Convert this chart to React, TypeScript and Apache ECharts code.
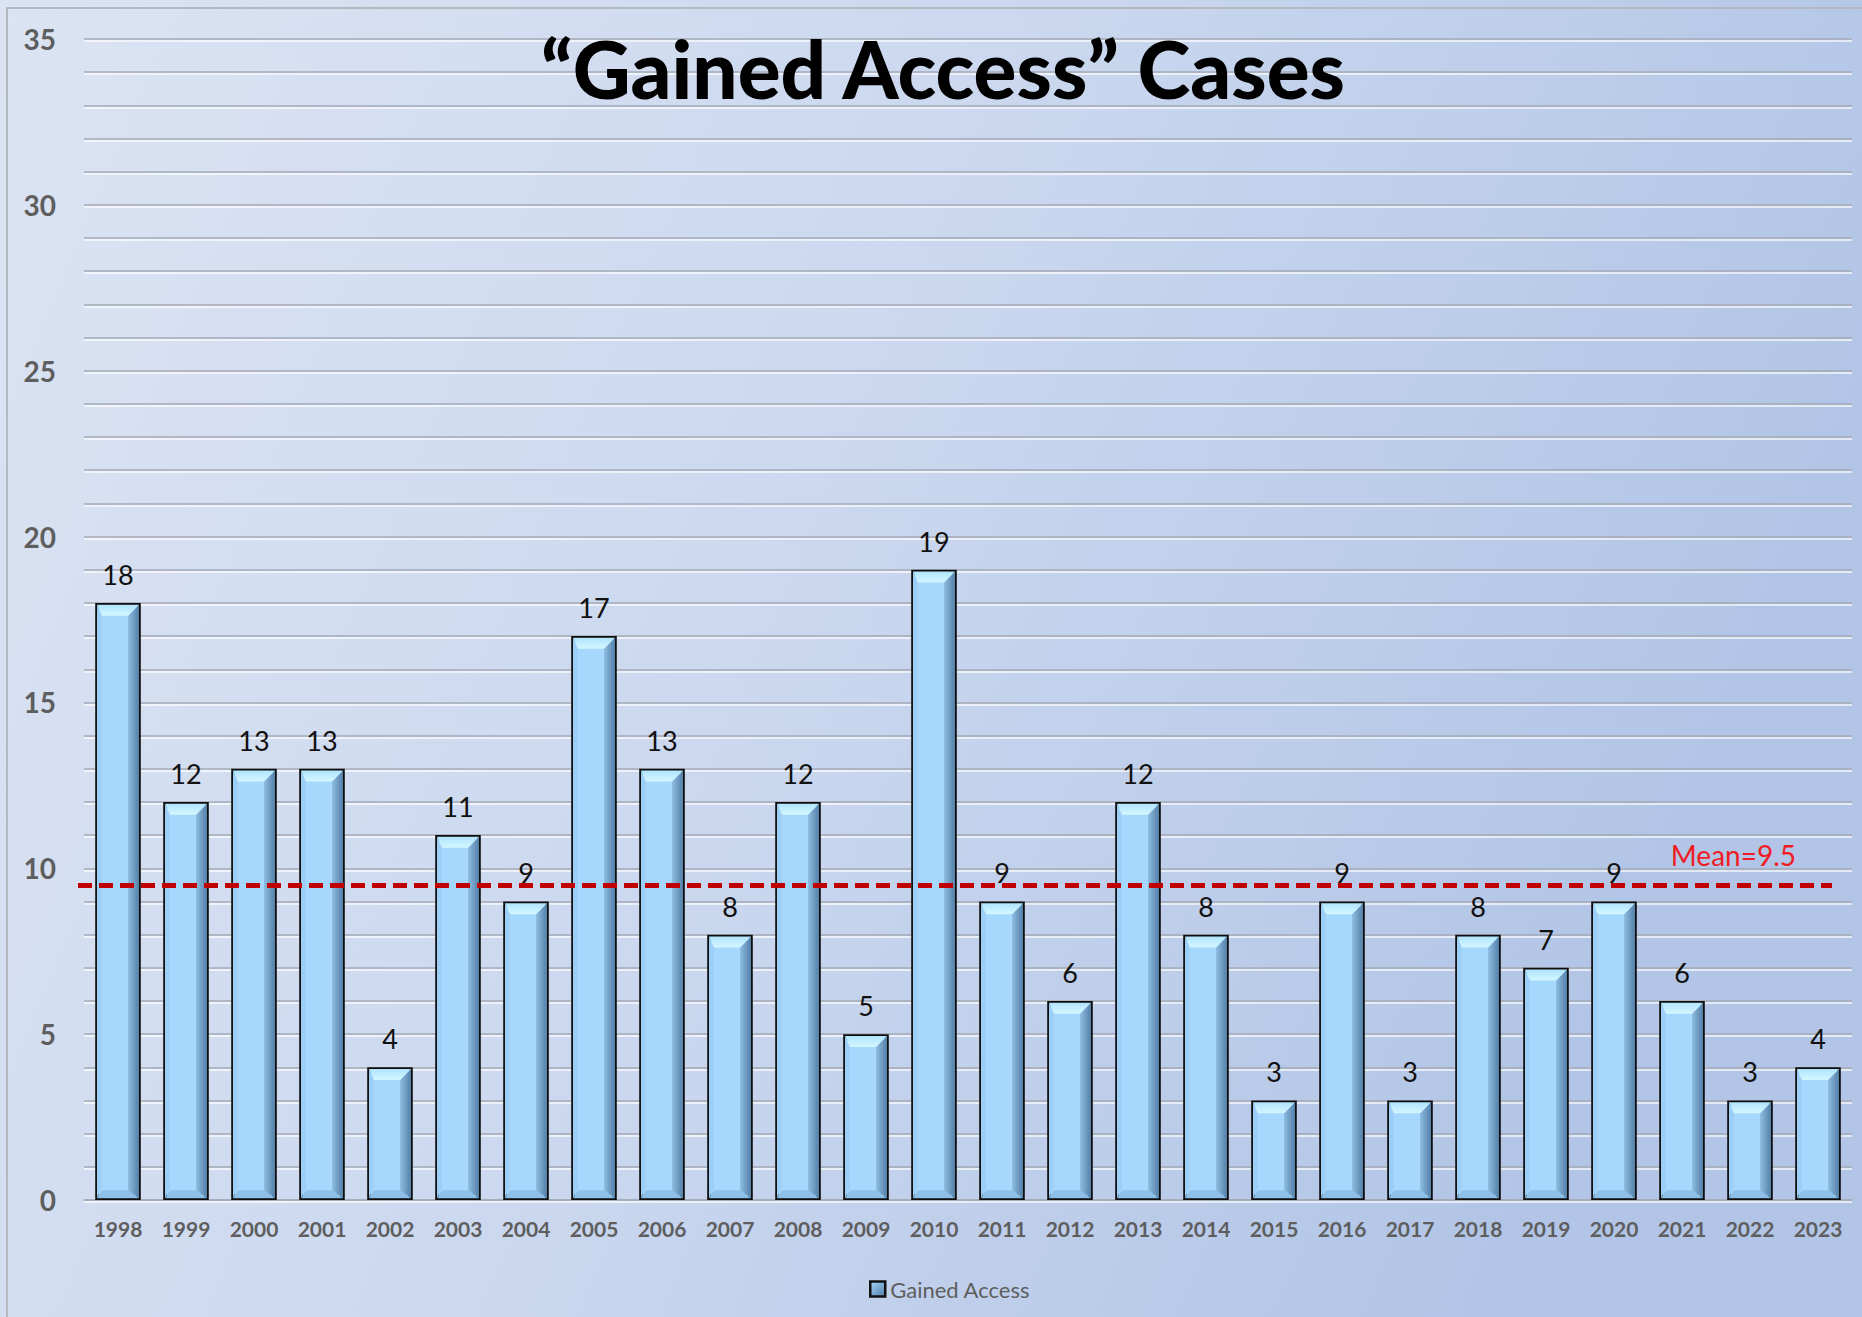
import React, { useEffect, useRef } from "react";
import * as echarts from "echarts";

const years = ["1998","1999","2000","2001","2002","2003","2004","2005","2006","2007","2008","2009","2010","2011","2012","2013","2014","2015","2016","2017","2018","2019","2020","2021","2022","2023"];
const cases = [18,12,13,13,4,11,9,17,13,8,12,5,19,9,6,12,8,3,9,3,8,7,9,6,3,4];
const meanValue = 9.5;
const yTicks = { min: 0, max: 35, interval: 5 };
const titleText = "\u201CGained Access\u201D Cases";
const seriesName = "Gained Access";

const BAR_RATIO = 0.67;

export default function App() {
  const ref = useRef<HTMLDivElement>(null);
  useEffect(() => {
    if (!ref.current) return;
    const chart = echarts.init(ref.current, null, { renderer: "svg" });
    const font = "Lato, 'Open Sans', sans-serif";
    const gridLine = { color: "#a4aab6", width: 1.5 };
    const hiLine = { color: "rgba(255,255,255,0.85)", width: 1.5 };
    const option: any = {
      animation: false,
      backgroundColor: {
        type: "linear", x: 0, y: 0, x2: 1, y2: 0.3,
        colorStops: [
          { offset: 0, color: "#dce4f3" },
          { offset: 0.5, color: "#cbd8ef" },
          { offset: 1, color: "#b2c5e6" },
        ],
      },
      textStyle: { fontFamily: font },
      graphic: [
        {
          type: "rect", silent: true, z: -1,
          shape: { x: 7, y: 8, width: 1870, height: 1320 },
          style: { fill: "none", stroke: "#b4b8c0", lineWidth: 2 },
        },
        {
          type: "text", x: 943, y: 68, z: 100,
          style: {
            text: titleText, fill: "#000", fontFamily: font, fontWeight: 900,
            fontSize: 80, textAlign: "center", textVerticalAlign: "middle",
          },
        },
      ],
      legend: {
        data: [seriesName], left: 864, top: 1273, itemWidth: 15, itemHeight: 15,
        icon: "rect",
        itemStyle: {
          borderWidth: 2.5, borderColor: "#111",
          color: new echarts.graphic.LinearGradient(0, 0, 1, 1, [
            { offset: 0, color: "#a6d7fd" },
            { offset: 1, color: "#4f7ca6" },
          ]),
        },
        textStyle: { color: "#5e5e5e", fontSize: 22, fontFamily: font },
      },
      grid: [
        { left: 84, right: 10, top: 39, bottom: 117 },
        { left: 84, right: 10, top: 41, bottom: 115 },
      ],
      xAxis: [
        {
          type: "category", data: years, gridIndex: 0,
          axisLine: { show: true, lineStyle: gridLine },
          axisTick: { show: false },
          axisLabel: { color: "#5e5e5e", fontWeight: "bold", fontSize: 21, margin: 18, fontFamily: font, interval: 0 },
          z: 3,
        },
        {
          type: "category", data: years, gridIndex: 1, show: false,
        },
      ],
      yAxis: [
        {
          type: "value", min: yTicks.min, max: yTicks.max, interval: yTicks.interval, gridIndex: 0,
          axisLine: { show: false }, axisTick: { show: false },
          axisLabel: { color: "#5e5e5e", fontWeight: "bold", fontSize: 28, margin: 28, fontFamily: font },
          splitLine: { show: true, lineStyle: gridLine },
          minorTick: { show: false, splitNumber: 5 },
          minorSplitLine: { show: true, lineStyle: gridLine },
          z: 2,
        },
        {
          type: "value", min: yTicks.min, max: yTicks.max, interval: yTicks.interval, gridIndex: 1,
          axisLine: { show: false }, axisTick: { show: false }, axisLabel: { show: false },
          splitLine: { show: true, lineStyle: hiLine },
          minorTick: { show: false, splitNumber: 5 },
          minorSplitLine: { show: true, lineStyle: hiLine },
          z: 1,
        },
      ],
      series: [
        {
          name: seriesName, type: "bar", data: cases, barWidth: (BAR_RATIO * 100) + "%",
          itemStyle: {
            color: "#a6d7fd", borderColor: "#0d0d0d", borderWidth: 3.5,
          },
          label: {
            show: true, position: "top", distance: 15, color: "#111", fontSize: 27, fontFamily: font,
          },
          z: 4,
          markLine: {
            silent: true, symbol: ["none", "none"], z: 20,
            lineStyle: { color: "#c00000", width: 5, type: [14, 7] },
            label: {
              show: true, position: "insideEndTop", formatter: "Mean=" + meanValue,
              color: "#f01c24", fontSize: 28, fontFamily: font, distance: 16, padding: [0, 20, 0, 0],
            },
            data: [[{ x: 78, yAxis: meanValue }, { x: 1832, yAxis: meanValue }]],
          },
        },
        {
          type: "custom", silent: true, z: 5,
          data: cases.map((v, i) => [i, v]),
          encode: { x: 0, y: 1 },
          renderItem: (params: any, api: any) => {
            const idx = api.value(0);
            const v = api.value(1);
            const top = api.coord([idx, v]);
            const base = api.coord([idx, 0]);
            const w = api.size([1, 0])[0] * BAR_RATIO;
            const i = 1.75;
            const x0 = top[0] - w / 2 + i, x1 = top[0] + w / 2 - i;
            const y0 = top[1] + i, y1 = base[1] - i;
            const b = 11;
            return {
              type: "group",
              children: [
                {
                  type: "polygon",
                  shape: { points: [[x0, y0], [x0 + 5, y0 + b], [x0 + 5, y1 - b], [x0, y1]] },
                  style: { fill: "#9ccff7" },
                },
                {
                  type: "polygon",
                  shape: { points: [[x0, y1], [x1, y1], [x1 - b, y1 - 8], [x0 + 5, y1 - 8]] },
                  style: { fill: "#8fc0e8" },
                },
                {
                  type: "polygon",
                  shape: { points: [[x1, y0], [x1, y1], [x1 - b, y1 - 8], [x1 - b, y0 + b]] },
                  style: {
                    fill: new echarts.graphic.LinearGradient(0, 0, 1, 0, [
                      { offset: 0, color: "#8ebde2" },
                      { offset: 1, color: "#5580a8" },
                    ]),
                  },
                },
                {
                  type: "polygon",
                  shape: { points: [[x0, y0], [x1, y0], [x1 - b, y0 + b], [x0 + 5, y0 + b]] },
                  style: {
                    fill: new echarts.graphic.LinearGradient(0, 0, 0, 1, [
                      { offset: 0, color: "#b0e4ff" },
                      { offset: 1, color: "#d4f7ff" },
                    ]),
                  },
                },
              ],
            };
          },
        },
      ],
    };
    chart.setOption(option);
    return () => chart.dispose();
  }, []);
  return (
    <div
      ref={ref}
      style={{ position: "fixed", left: 0, top: 0, width: 1862, height: 1317 }}
    />
  );
}
